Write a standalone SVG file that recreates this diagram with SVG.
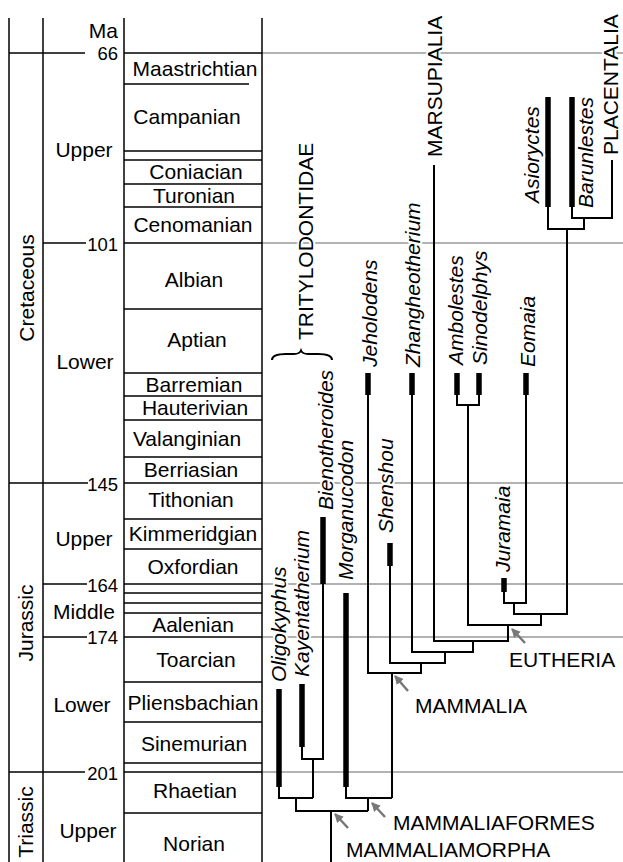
<svg xmlns="http://www.w3.org/2000/svg" width="623" height="862" viewBox="0 0 623 862">
<style>
text{font-family:"Liberation Sans",Arial,sans-serif;font-size:21px;fill:#000}
.st{text-anchor:middle}
.ep{text-anchor:middle}
.num{font-size:18.5px;text-anchor:end}
.tx{font-style:italic}
.halo{stroke:#fff;stroke-width:4;stroke-linejoin:round;paint-order:stroke}
.frame line{stroke:#000;stroke-width:1.5}
.grid line{stroke:#999;stroke-width:1.5}
.br{fill:none;stroke:#000;stroke-width:2}
.bar{stroke:#000;stroke-width:5.5}
.arr{stroke:#777;stroke-width:2.5;marker-end:url(#ah)}
</style>
<defs>
<marker id="ah" markerUnits="userSpaceOnUse" markerWidth="10" markerHeight="10" viewBox="0 0 10 10" refX="8" refY="5" orient="auto">
<path d="M0,0.5 L9,5 L0,9.5 z" fill="#777"/>
</marker>
</defs>
<rect width="623" height="862" fill="#fff"/>

<g id="grid" class="grid">
<line x1="262" y1="53" x2="623" y2="53"/>
<line x1="262" y1="243" x2="623" y2="243"/>
<line x1="262" y1="483" x2="623" y2="483"/>
<line x1="262" y1="584" x2="623" y2="584"/>
<line x1="262" y1="637" x2="623" y2="637"/>
<line x1="262" y1="772" x2="623" y2="772"/>
</g>

<g id="timescale" class="frame">
<line x1="9" y1="18" x2="9" y2="862"/>
<line x1="43" y1="18" x2="43" y2="862"/>
<line x1="124" y1="18" x2="124" y2="862"/>
<line x1="262" y1="18" x2="262" y2="862"/>
<line x1="9" y1="53" x2="85" y2="53"/>
<line x1="124" y1="53" x2="262" y2="53"/>
<line x1="43" y1="243" x2="86" y2="243"/>
<line x1="124" y1="243" x2="262" y2="243"/>
<line x1="9" y1="483" x2="88" y2="483"/>
<line x1="124" y1="483" x2="262" y2="483"/>
<line x1="43" y1="584" x2="87" y2="584"/>
<line x1="124" y1="584" x2="262" y2="584"/>
<line x1="43" y1="637" x2="87" y2="637"/>
<line x1="124" y1="637" x2="262" y2="637"/>
<line x1="9" y1="772" x2="85" y2="772"/>
<line x1="124" y1="772" x2="262" y2="772"/>
<line x1="124" y1="84" x2="249" y2="84"/>
<line x1="124" y1="151" x2="262" y2="151"/>
<line x1="124" y1="160" x2="262" y2="160"/>
<line x1="124" y1="184" x2="262" y2="184"/>
<line x1="124" y1="207" x2="262" y2="207"/>
<line x1="124" y1="309" x2="262" y2="309"/>
<line x1="124" y1="373" x2="262" y2="373"/>
<line x1="124" y1="396" x2="262" y2="396"/>
<line x1="124" y1="420" x2="262" y2="420"/>
<line x1="124" y1="457" x2="262" y2="457"/>
<line x1="124" y1="519" x2="262" y2="519"/>
<line x1="124" y1="549" x2="262" y2="549"/>
<line x1="124" y1="593" x2="262" y2="593"/>
<line x1="124" y1="603" x2="262" y2="603"/>
<line x1="124" y1="613" x2="262" y2="613"/>
<line x1="124" y1="682" x2="262" y2="682"/>
<line x1="124" y1="722" x2="262" y2="722"/>
<line x1="124" y1="763" x2="262" y2="763"/>
<line x1="124" y1="813" x2="262" y2="813"/>
</g>

<g id="ages">
<text class="num" x="118" y="38" style="font-size:21px">Ma</text>
<text class="num" x="118" y="60">66</text>
<text class="num" x="118" y="251">101</text>
<text class="num" x="118" y="491">145</text>
<text class="num" x="118" y="592">164</text>
<text class="num" x="118" y="644">174</text>
<text class="num" x="118" y="780">201</text>
</g>

<g id="periods">
<text class="ep" transform="translate(34,288) rotate(-90)">Cretaceous</text>
<text class="ep" transform="translate(33,623) rotate(-90)">Jurassic</text>
<text class="ep" transform="translate(33,822) rotate(-90)">Triassic</text>
</g>

<g id="epochs">
<text class="ep" x="84" y="157">Upper</text>
<text class="ep" x="85" y="369">Lower</text>
<text class="ep" x="84" y="546">Upper</text>
<text class="ep" x="84" y="619">Middle</text>
<text class="ep" x="82" y="712">Lower</text>
<text class="ep" x="88" y="838">Upper</text>
</g>

<g id="stages">
<text class="st" x="195" y="76">Maastrichtian</text>
<text class="st" x="187" y="124">Campanian</text>
<text class="st" x="196" y="179">Coniacian</text>
<text class="st" x="194" y="203">Turonian</text>
<text class="st" x="193" y="232">Cenomanian</text>
<text class="st" x="194" y="287">Albian</text>
<text class="st" x="197" y="347">Aptian</text>
<text class="st" x="194" y="392">Barremian</text>
<text class="st" x="195" y="415">Hauterivian</text>
<text class="st" x="187" y="446">Valanginian</text>
<text class="st" x="191" y="477">Berriasian</text>
<text class="st" x="191" y="507">Tithonian</text>
<text class="st" x="193" y="541">Kimmeridgian</text>
<text class="st" x="193" y="574">Oxfordian</text>
<text class="st" x="193" y="632">Aalenian</text>
<text class="st" x="196" y="667">Toarcian</text>
<text class="st" x="193" y="710">Pliensbachian</text>
<text class="st" x="194" y="751">Sinemurian</text>
<text class="st" x="195" y="798">Rhaetian</text>
<text class="st" x="194" y="851">Norian</text>
</g>

<g id="connectors">
<path class="br" d="M279,787 V798 H313 M302,747 V759 H323 V584 M313,759 V798 M296,798 V811 H368 M346,787 V798 H392 M368,798 V811 M331,811 V862"/>
<path class="br" d="M392,798 V673 M368,395 V673 H421 V663 M390,566 V663 H445 V652 M412,395 V652 H473 V641 M434,165 V641 H508 V625"/>
<path class="br" d="M457,395 V405 H479 V395 M468,405 V625 H541 V614 M504,592 V603 H526 V395 M514,603 V614 H567 V229 M548,207 V229 H584 V218 M572,207 V218 H612 V160"/>
<path class="br" d="M272,360 C272,355 278,354 286,354 L294,354 C298,354 300,353 301,350.5 C302,353 304,354 308,354 L318,354 C326,354 332,355 332,360" stroke-width="1.5"/>
<line class="arr" x1="525" y1="643" x2="512" y2="629"/>
<line class="arr" x1="408" y1="691" x2="395" y2="676"/>
<line class="arr" x1="385" y1="817" x2="372" y2="803"/>
<line class="arr" x1="348" y1="828" x2="335" y2="814"/>
</g>

<g id="bars">
<line class="bar" x1="279" y1="689" x2="279" y2="787"/>
<line class="bar" x1="302" y1="684" x2="302" y2="747"/>
<line class="bar" x1="323" y1="517" x2="323" y2="584"/>
<line class="bar" x1="346" y1="593" x2="346" y2="787"/>
<line class="bar" x1="390" y1="543" x2="390" y2="566"/>
<line class="bar" x1="368" y1="373" x2="368" y2="395"/>
<line class="bar" x1="412" y1="373" x2="412" y2="395"/>
<line class="bar" x1="457" y1="373" x2="457" y2="395"/>
<line class="bar" x1="479" y1="373" x2="479" y2="395"/>
<line class="bar" x1="526" y1="373" x2="526" y2="395"/>
<line class="bar" x1="504" y1="578" x2="504" y2="592"/>
<line class="bar" x1="548" y1="97" x2="548" y2="207"/>
<line class="bar" x1="572" y1="97" x2="572" y2="207"/>
</g>

<g id="taxa" class="tx">
<text id="oligokyphus" class="halo" transform="translate(286,682) rotate(-90)">Oligokyphus</text>
<text id="kayentatherium" class="halo" transform="translate(309,677) rotate(-90)">Kayentatherium</text>
<text id="bienotheroides" class="halo" transform="translate(333,510) rotate(-90)">Bienotheroides</text>
<text id="morganucodon" class="halo" transform="translate(353,580) rotate(-90)">Morganucodon</text>
<text id="shenshou" class="halo" transform="translate(393,533) rotate(-90)">Shenshou</text>
<text id="jeholodens" class="halo" transform="translate(377,367) rotate(-90)">Jeholodens</text>
<text id="zhangheotherium" class="halo" transform="translate(420,367) rotate(-90)">Zhangheotherium</text>
<text id="ambolestes" class="halo" transform="translate(463,365) rotate(-90)">Ambolestes</text>
<text id="sinodelphys" class="halo" transform="translate(487,365) rotate(-90)">Sinodelphys</text>
<text id="eomaia" class="halo" transform="translate(535,367) rotate(-90)">Eomaia</text>
<text id="juramaia" class="halo" transform="translate(510,572) rotate(-90)">Juramaia</text>
<text id="asioryctes" class="halo" transform="translate(539,203) rotate(-90)">Asioryctes</text>
<text id="barunlestes" class="halo" transform="translate(593,208) rotate(-90)">Barunlestes</text>
</g>

<g id="clades">
<text id="tritylodontidae" class="halo" transform="translate(313,340) rotate(-90)">TRITYLODONTIDAE</text>
<text id="marsupialia" class="halo" transform="translate(442,157) rotate(-90)">MARSUPIALIA</text>
<text id="placentalia" class="halo" transform="translate(618,155) rotate(-90)">PLACENTALIA</text>
<text id="eutheria" x="509" y="667">EUTHERIA</text>
<text id="mammalia" x="415" y="713">MAMMALIA</text>
<text id="mammaliaformes" x="393" y="830">MAMMALIAFORMES</text>
<text id="mammaliamorpha" x="346" y="857">MAMMALIAMORPHA</text>
</g>
</svg>
